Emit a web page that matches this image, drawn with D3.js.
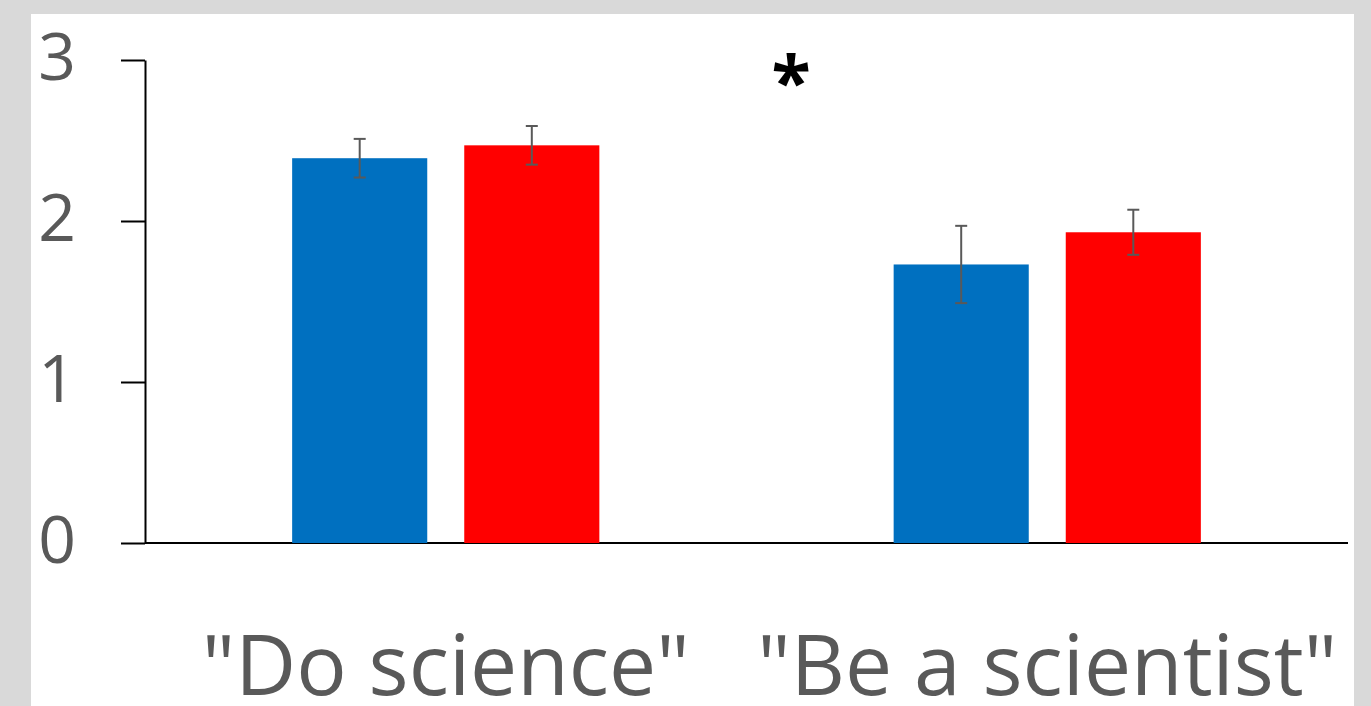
<!DOCTYPE html>
<html>
<head>
<meta charset="utf-8">
<script src="https://cdn.jsdelivr.net/npm/d3@7"></script>
<style>
  html, body { margin: 0; padding: 0; background: #d9d9d9; }
  svg { display: block; }
  text { font-family: "Open Sans", "Noto Sans", sans-serif; }
</style>
</head>
<body>
<svg id="chart" width="1371" height="706"></svg>
<script>
// Mean ratings with standard errors for two phrasings, two groups each
const categories = ['"Do science"', '"Be a scientist"'];
const seriesNames = ["groupA", "groupB"];
const seriesColors = ["#0070C0", "#FF0000"];
const meansA = [2.39, 1.73];
const meansB = [2.47, 1.93];
const errorsA = [0.12, 0.24];
const errorsB = [0.12, 0.14];
const yTicks = [0, 1, 2, 3];
const significance = "*";

const svg = d3.select("#chart");
const W = 1371, H = 706;

// panel
svg.append("rect").attr("width", W).attr("height", H).attr("fill", "#d9d9d9");
svg.append("rect").attr("x", 31).attr("y", 14).attr("width", 1323).attr("height", H - 14).attr("fill", "#ffffff");

const plot = { left: 145, right: 1348, top: 60, bottom: 543 };

const x0 = d3.scaleBand().domain(categories).range([plot.left, plot.right]).paddingInner(0).paddingOuter(0);
const x1 = d3.scaleBand().domain(seriesNames).range([0, x0.bandwidth()]).paddingInner(0.215).paddingOuter(0.855);
const y = d3.scaleLinear().domain([0, 3]).range([plot.bottom, plot.top]);

const rows = categories.map((c, i) => ({
  category: c,
  values: [
    { key: seriesNames[0], mean: meansA[i], err: errorsA[i], color: seriesColors[0] },
    { key: seriesNames[1], mean: meansB[i], err: errorsB[i], color: seriesColors[1] }
  ]
}));

// y axis
const yAxis = d3.axisLeft(y).tickValues(yTicks).tickSize(24).tickSizeOuter(0).tickPadding(45).tickFormat(d3.format("d"));
const gy = svg.append("g").attr("transform", `translate(${plot.left},0)`).call(yAxis);
gy.select(".domain").attr("stroke", "#000").attr("stroke-width", 2);
gy.selectAll(".tick line").attr("stroke", "#000").attr("stroke-width", 2);
gy.selectAll(".tick text")
  .attr("fill", "#595959")
  .attr("font-size", 66)
  .attr("font-family", '"Open Sans", sans-serif')
  .attr("dy", "0.3em");

// baseline
svg.append("line")
  .attr("x1", plot.left).attr("x2", plot.right)
  .attr("y1", y(0)).attr("y2", y(0))
  .attr("stroke", "#000").attr("stroke-width", 2);

// bars
const groups = svg.append("g").selectAll("g").data(rows).join("g")
  .attr("transform", d => `translate(${x0(d.category)},0)`);

groups.selectAll("rect").data(d => d.values).join("rect")
  .attr("x", d => x1(d.key))
  .attr("width", x1.bandwidth())
  .attr("y", d => y(d.mean))
  .attr("height", d => y(0) - y(d.mean))
  .attr("fill", d => d.color);

// error bars
const eb = groups.selectAll("g.err").data(d => d.values).join("g").attr("class", "err")
  .attr("stroke", "#595959").attr("stroke-width", 2);
eb.append("line")
  .attr("x1", d => x1(d.key) + x1.bandwidth() / 2)
  .attr("x2", d => x1(d.key) + x1.bandwidth() / 2)
  .attr("y1", d => y(d.mean + d.err))
  .attr("y2", d => y(d.mean - d.err));
eb.append("line")
  .attr("x1", d => x1(d.key) + x1.bandwidth() / 2 - 6)
  .attr("x2", d => x1(d.key) + x1.bandwidth() / 2 + 6)
  .attr("y1", d => y(d.mean + d.err))
  .attr("y2", d => y(d.mean + d.err));
eb.append("line")
  .attr("x1", d => x1(d.key) + x1.bandwidth() / 2 - 6)
  .attr("x2", d => x1(d.key) + x1.bandwidth() / 2 + 6)
  .attr("y1", d => y(d.mean - d.err))
  .attr("y2", d => y(d.mean - d.err));

// category labels
svg.append("g").selectAll("text").data(categories).join("text")
  .attr("x", d => x0(d) + x0.bandwidth() / 2)
  .attr("y", 695)
  .attr("text-anchor", "middle")
  .attr("fill", "#595959")
  .attr("font-size", 84)
  .text(d => d);

// significance marker
svg.append("text")
  .attr("x", 791)
  .attr("y", 108)
  .attr("text-anchor", "middle")
  .attr("font-size", 72)
  .attr("font-weight", "bold")
  .attr("fill", "#000")
  .text(significance);
</script>
</body>
</html>
